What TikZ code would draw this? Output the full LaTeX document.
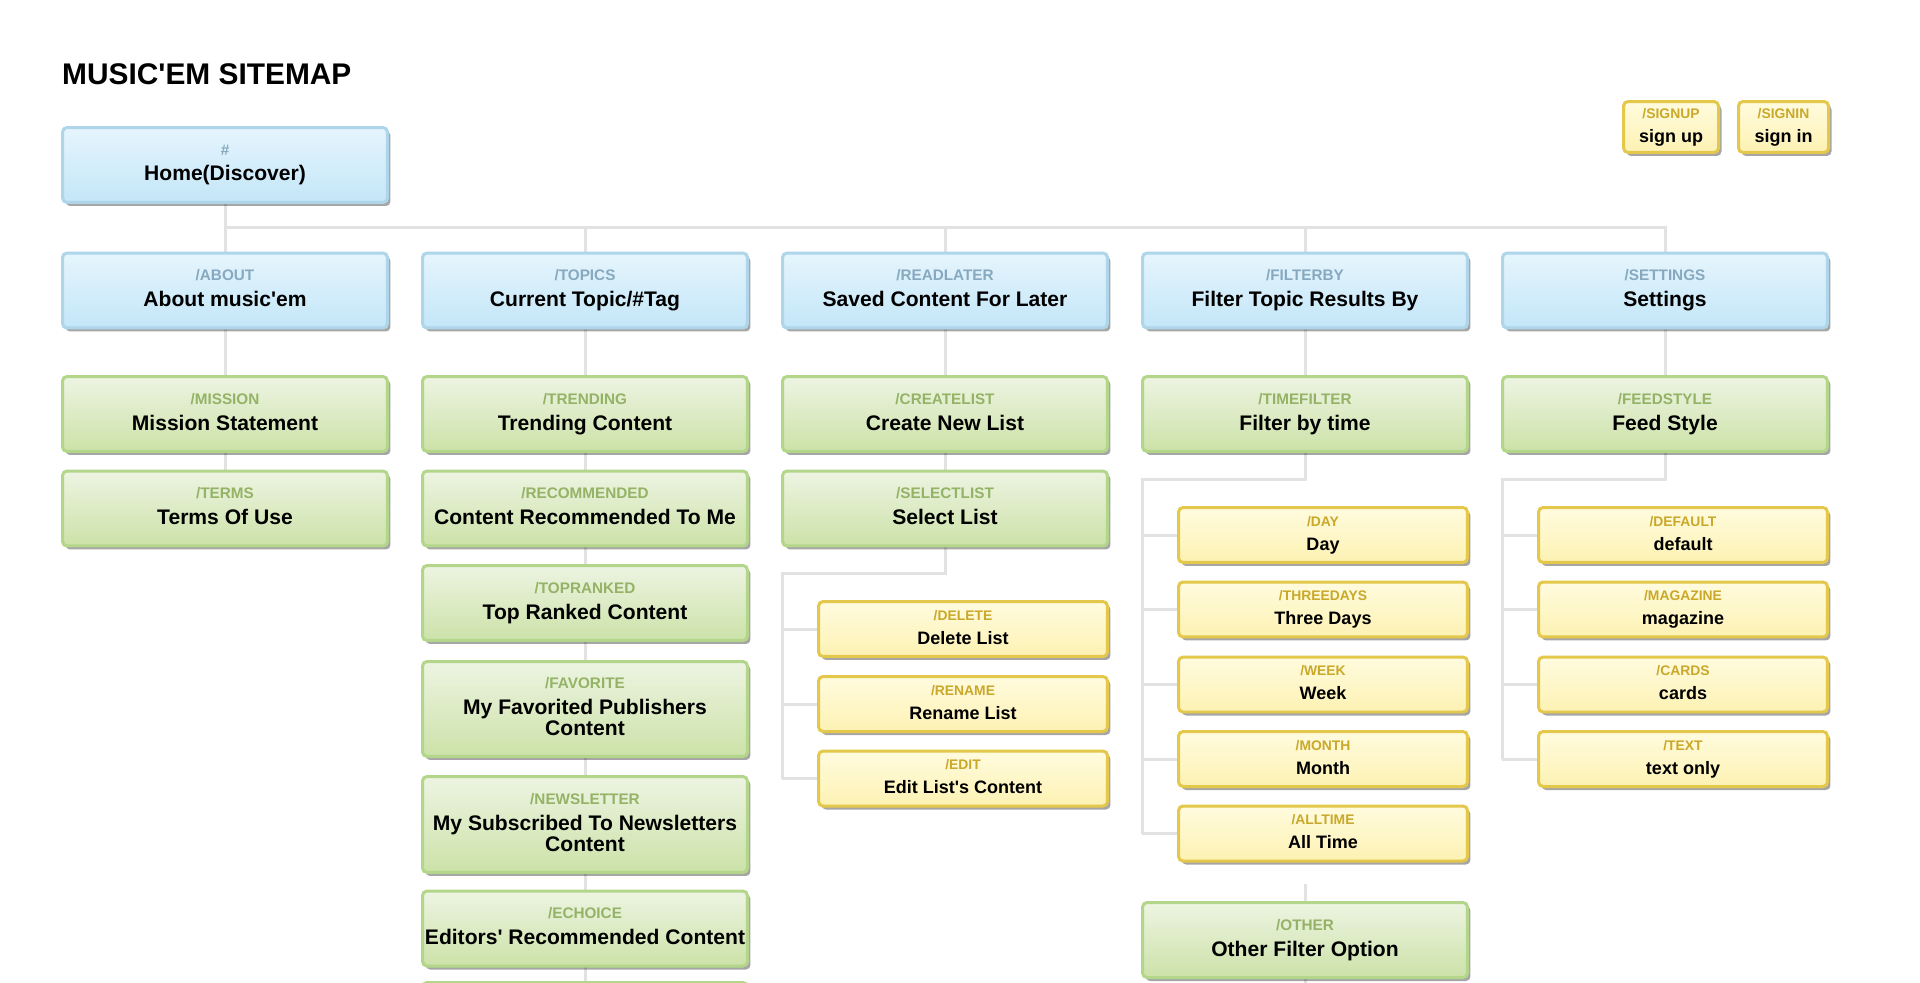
\documentclass[tikz,border=0pt]{standalone}
\usepackage{fontspec}
\setmainfont{Liberation Sans}[Ligatures=TeXOff]
\usetikzlibrary{shadows,backgrounds}

\definecolor{bluetop}{HTML}{E6F5FD}
\definecolor{bluebot}{HTML}{C3E6F8}
\definecolor{blueline}{HTML}{AED5EA}
\definecolor{bluelbl}{HTML}{86A9BF}
\definecolor{greentop}{HTML}{EDF4E2}
\definecolor{greenbot}{HTML}{CCE2A8}
\definecolor{greenline}{HTML}{B3D68B}
\definecolor{greenlbl}{HTML}{94B366}
\definecolor{goldtop}{HTML}{FFFBDE}
\definecolor{goldbot}{HTML}{FDF2B3}
\definecolor{goldline}{HTML}{E3C84C}
\definecolor{goldlbl}{HTML}{C9A82A}
\definecolor{wiregray}{HTML}{E2E2E2}

\tikzset{
  box/.style={rectangle, rounded corners=0.09cm, line width=0.06cm, align=center,
    inner sep=0pt, font=\bfseries\fontsize{12}{12}\selectfont,
    drop shadow={shadow xshift=0.06cm, shadow yshift=-0.07cm, fill=black, opacity=0.35}},
  bluebox/.style={box, draw=blueline, top color=bluetop, bottom color=bluebot,
    minimum width=6.5cm, minimum height=1.5cm},
  greenbox/.style={box, draw=greenline, top color=greentop, bottom color=greenbot,
    minimum width=6.5cm, minimum height=1.5cm},
  goldbox/.style={box, draw=goldline, top color=goldtop, bottom color=goldbot,
    minimum width=5.78cm, minimum height=1.1cm, font=\bfseries\fontsize{10.25}{11}\selectfont},
  wire/.style={draw=wiregray, line width=0.06cm}
}
% label line + main text, fixed depth on the last line
\newcommand{\bl}[2]{{\fontsize{8.7}{10}\selectfont\color{bluelbl}#1}\\[2.6pt]#2\vphantom{g}}
\newcommand{\gl}[2]{{\fontsize{8.7}{10}\selectfont\color{greenlbl}#1}\\[2.6pt]#2\vphantom{g}}
\newcommand{\yl}[2]{{\fontsize{7.9}{9}\selectfont\color{goldlbl}#1}\\[2.6pt]#2\vphantom{g}}

\begin{document}
\begin{tikzpicture}[x=0.02cm,y=-0.02cm]
  \useasboundingbox (0,0) rectangle (1920,983);

  \node[anchor=base west, font=\bfseries\fontsize{17}{18}\selectfont] (title) at (56,85) {MUSIC'EM SITEMAP};

  % top level
  \node[bluebox] (home) at (225,165) {\bl{\#}{Home(Discover)}};
  \node[goldbox, minimum width=1.9cm, minimum height=1.02cm] (signup) at (1671,127) {\yl{/SIGNUP}{sign up}};
  \node[goldbox, minimum width=1.8cm, minimum height=1.02cm] (signin) at (1783.5,127) {\yl{/SIGNIN}{sign in}};

  \node[bluebox] (about) at (225,290.5) {\bl{/ABOUT}{About music'em}};
  \node[bluebox] (topics) at (585,290.5) {\bl{/TOPICS}{Current Topic/\#Tag}};
  \node[bluebox] (readlater) at (945,290.5) {\bl{/READLATER}{Saved Content For Later}};
  \node[bluebox] (filterby) at (1305,290.5) {\bl{/FILTERBY}{Filter Topic Results By}};
  \node[bluebox] (settings) at (1665,290.5) {\bl{/SETTINGS}{Settings}};

  % about
  \node[greenbox] (mission) at (225,414) {\gl{/MISSION}{Mission Statement}};
  \node[greenbox] (terms) at (225,508.5) {\gl{/TERMS}{Terms Of Use}};

  % topics
  \node[greenbox] (trending) at (585,414) {\gl{/TRENDING}{Trending Content}};
  \node[greenbox] (recommended) at (585,508.5) {\gl{/RECOMMENDED}{Content Recommended To Me}};
  \node[greenbox] (topranked) at (585,603) {\gl{/TOPRANKED}{Top Ranked Content}};
  \node[greenbox, minimum height=1.9cm] (favorite) at (585,709) {\gl{/FAVORITE}{My Favorited Publishers\\Content}};
  \node[greenbox, minimum height=1.92cm] (newsletter) at (585,824.5) {\gl{/NEWSLETTER}{My Subscribed To Newsletters\\Content}};
  \node[greenbox] (echoice) at (585,928.5) {\gl{/ECHOICE}{Editors' Recommended Content}};
  \node[greenbox] (nextpage) at (585,1020) {};

  % read later
  \node[greenbox] (createlist) at (945,414) {\gl{/CREATELIST}{Create New List}};
  \node[greenbox] (selectlist) at (945,508.5) {\gl{/SELECTLIST}{Select List}};
  \node[goldbox] (delete) at (963,629) {\yl{/DELETE}{Delete List}};
  \node[goldbox] (rename) at (963,704) {\yl{/RENAME}{Rename List}};
  \node[goldbox] (edit) at (963,778.5) {\yl{/EDIT}{Edit List's Content}};

  % filter by
  \node[greenbox] (timefilter) at (1305,414) {\gl{/TIMEFILTER}{Filter by time}};
  \node[goldbox] (day) at (1323,535) {\yl{/DAY}{Day}};
  \node[goldbox] (threedays) at (1323,609.5) {\yl{/THREEDAYS}{Three Days}};
  \node[goldbox] (week) at (1323,684.5) {\yl{/WEEK}{Week}};
  \node[goldbox] (month) at (1323,759) {\yl{/MONTH}{Month}};
  \node[goldbox] (alltime) at (1323,833.5) {\yl{/ALLTIME}{All Time}};
  \node[greenbox] (other) at (1305,940) {\gl{/OTHER}{Other Filter Option}};

  % settings
  \node[greenbox] (feedstyle) at (1665,414) {\gl{/FEEDSTYLE}{Feed Style}};
  \node[goldbox] (default) at (1683,535) {\yl{/DEFAULT}{default}};
  \node[goldbox] (magazine) at (1683,609.5) {\yl{/MAGAZINE}{magazine}};
  \node[goldbox] (cards) at (1683,684.5) {\yl{/CARDS}{cards}};
  \node[goldbox] (textonly) at (1683,759) {\yl{/TEXT}{text only}};

  \coordinate (hub) at (225,228);
  \coordinate (rlknee) at (945,573);
  \coordinate (rlrail) at (782,573);
  \coordinate (fbknee) at (1305,479);
  \coordinate (fbrail) at (1142,479);
  \coordinate (stknee) at (1665,479);
  \coordinate (strail) at (1502,479);
  \coordinate (otherup) at (1305,884);
  \coordinate (otherdown) at (1305,995);

  \begin{pgfonlayer}{background}
    \draw[wire] (home.center) -- (hub) -- (hub -| settings) -- (settings.center);
    \foreach \n in {about,topics,readlater,filterby}
      \draw[wire] (hub -| \n) -- (\n.center);

    \draw[wire] (about.center) -- (mission.center) -- (terms.center);
    \draw[wire] (topics.center) -- (trending.center) -- (recommended.center) -- (topranked.center)
      -- (favorite.center) -- (newsletter.center) -- (echoice.center) -- (nextpage.center);

    \draw[wire] (readlater.center) -- (createlist.center) -- (selectlist.center) -- (rlknee) -- (rlrail) -- (rlrail |- edit);
    \foreach \n in {delete,rename,edit}
      \draw[wire] (rlrail |- \n) -- (\n.center);

    \draw[wire] (filterby.center) -- (timefilter.center) -- (fbknee) -- (fbrail) -- (fbrail |- alltime);
    \foreach \n in {day,threedays,week,month,alltime}
      \draw[wire] (fbrail |- \n) -- (\n.center);
    \draw[wire] (otherup) -- (other.center) -- (otherdown);

    \draw[wire] (settings.center) -- (feedstyle.center) -- (stknee) -- (strail) -- (strail |- textonly);
    \foreach \n in {default,magazine,cards,textonly}
      \draw[wire] (strail |- \n) -- (\n.center);
  \end{pgfonlayer}
\end{tikzpicture}
\end{document}
